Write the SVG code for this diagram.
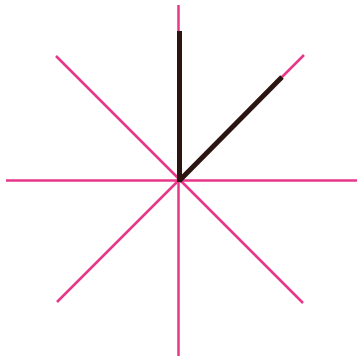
<svg xmlns="http://www.w3.org/2000/svg" width="362" height="361" viewBox="0 0 362 361">
<style>
.axis{stroke:#e8368b;stroke-width:2.5;fill:none}
.hand{stroke:#2b1510;stroke-width:5;fill:none}
</style>
<rect width="362" height="361" fill="#ffffff"/>
<g id="axes">
<line class="axis" x1="178.5" y1="5" x2="178.5" y2="356"/>
<line class="axis" x1="6" y1="180.5" x2="357" y2="180.5"/>
<line class="axis" x1="56" y1="56" x2="303" y2="303"/>
<line class="axis" x1="304" y1="55" x2="57" y2="302"/>
</g>
<g id="hands">
<line class="hand" x1="179.5" y1="31" x2="179.5" y2="182"/>
<line class="hand" x1="179" y1="181" x2="282" y2="77"/>
</g>
</svg>
